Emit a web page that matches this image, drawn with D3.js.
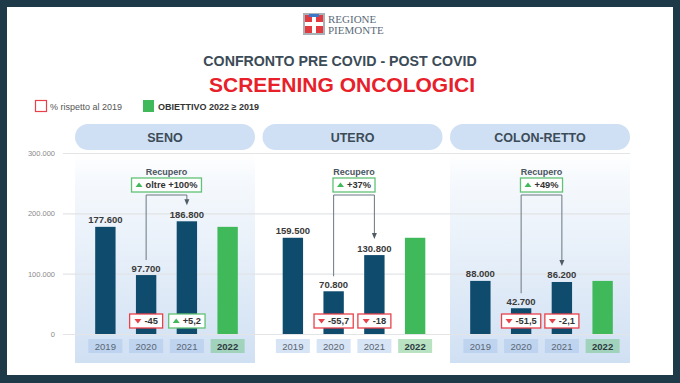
<!DOCTYPE html>
<html>
<head>
<meta charset="utf-8">
<script src="https://cdn.jsdelivr.net/npm/d3@7"></script>
<style>
  body { margin: 0; background: #1e3947; }
  text { font-family: "Liberation Sans", Arial, sans-serif; }
</style>
</head>
<body>
<div id="vis"></div>
<script>
// dati
var categories = ['SENO', 'UTERO', 'COLON-RETTO'];
var years = ['2019', '2020', '2021', '2022'];
var actual = [
    [177600, 97700, 186800],
    [159500, 70800, 130800],
    [88000, 42700, 86200]
];
var target = [177600, 159500, 88000];
var pctChange = [
    [-45, 5.2],
    [-55.7, -18],
    [-51.5, -2.1]
];
var recovery = ['oltre +100%', '+37%', '+49%'];
var yTicks = [0, 100000, 200000, 300000];

var W = 680, H = 383;
var navy = '#0f4b6d', green = '#40b95b', red = '#e8414a', greenLine = '#62c275';

var it = d3.formatLocale({decimal: ',', thousands: '.', grouping: [3], currency: ['€', '']});
var fmtInt = it.format(',');
var fmtPct = function(v) { return (v > 0 ? '+' : '-') + it.format(',')(Math.abs(v)); };

var svg = d3.select('#vis').append('svg')
    .attr('width', W)
    .attr('height', H);

var defs = svg.append('defs');
var grad = defs.append('linearGradient')
    .attr('id', 'panelGrad')
    .attr('x1', 0).attr('y1', 0).attr('x2', 0).attr('y2', 1);
grad.append('stop').attr('offset', '0%').attr('stop-color', '#d2e2f4').attr('stop-opacity', 0);
grad.append('stop').attr('offset', '12%').attr('stop-color', '#d2e2f4').attr('stop-opacity', 0.2);
grad.append('stop').attr('offset', '100%').attr('stop-color', '#d0e0f3').attr('stop-opacity', 1);

// cornice
svg.append('rect').attr('width', W).attr('height', H).attr('fill', '#1e3947');
svg.append('rect').attr('x', 7).attr('y', 7).attr('width', 666).attr('height', 368).attr('fill', '#fff');

// logo
var logo = svg.append('g').attr('transform', 'translate(303,13)');
logo.append('rect').attr('width', 22).attr('height', 22).attr('fill', '#a9b0b6');
logo.append('rect').attr('x', 2).attr('y', 2).attr('width', 18).attr('height', 18).attr('fill', '#e23a3f');
logo.append('rect').attr('x', 2).attr('y', 9).attr('width', 18).attr('height', 4).attr('fill', '#fff');
logo.append('rect').attr('x', 9).attr('y', 2).attr('width', 4).attr('height', 18).attr('fill', '#fff');
logo.append('rect').attr('x', 6).attr('y', 1).attr('width', 10).attr('height', 3).attr('fill', '#3b78c8');
svg.append('text').attr('x', 328).attr('y', 23)
    .style('font-family', '"Liberation Serif", serif').style('font-size', '11px')
    .attr('fill', '#5b6a78').text('REGIONE');
svg.append('text').attr('x', 328).attr('y', 34)
    .style('font-family', '"Liberation Serif", serif').style('font-size', '11px')
    .attr('fill', '#5b6a78').text('PIEMONTE');

// titoli
svg.append('text').attr('x', 340).attr('y', 66)
    .attr('text-anchor', 'middle')
    .style('font-size', '14.2px').style('font-weight', 'bold')
    .attr('fill', '#3b4b57')
    .text('CONFRONTO PRE COVID - POST COVID');
svg.append('text').attr('x', 342).attr('y', 91.5)
    .attr('text-anchor', 'middle')
    .style('font-size', '21px').style('font-weight', 'bold')
    .attr('fill', '#e8202a')
    .text('SCREENING ONCOLOGICI');

// legenda
svg.append('rect').attr('x', 35.5).attr('y', 100.5).attr('width', 11).attr('height', 11)
    .attr('fill', '#fff').attr('stroke', red).attr('stroke-width', 1.2);
svg.append('text').attr('x', 50).attr('y', 109.5)
    .style('font-size', '9px').attr('fill', '#555').text('% rispetto al 2019');
svg.append('rect').attr('x', 143).attr('y', 100).attr('width', 11).attr('height', 12).attr('fill', green);
svg.append('text').attr('x', 158).attr('y', 109.5)
    .style('font-size', '9px').style('font-weight', 'bold').attr('fill', '#333')
    .text('OBIETTIVO 2022 \u2265 2019');

// scale
var y = d3.scaleLinear().domain([0, 300000]).range([334, 153]);
var px = d3.scaleBand().domain(categories).range([75, 630]).paddingInner(0.04);
var bx = d3.scaleBand().domain(years).range([10, 173]).paddingInner(0.5).paddingOuter(0.25);

// pannelli (sfondo per SENO e COLON-RETTO)
categories.forEach(function(c, i) {
    if (i === 1) return;
    svg.append('rect')
        .attr('x', px(c)).attr('y', 153)
        .attr('width', px.bandwidth()).attr('height', 363 - 153)
        .attr('fill', 'url(#panelGrad)');
});

// griglia e asse y
var yAxis = d3.axisLeft(y)
    .tickValues(yTicks)
    .tickSize(-(630 - 63))
    .tickPadding(8)
    .tickFormat(fmtInt);
var ga = svg.append('g').attr('transform', 'translate(63,0)').call(yAxis);
ga.select('.domain').remove();
ga.selectAll('.tick line').attr('stroke', '#e2e4e6').attr('stroke-width', 1.2);
ga.selectAll('.tick text').attr('fill', '#8a8a8a')
    .style('font-size', '7.5px').style('font-family', '"Liberation Sans", Arial, sans-serif');

// intestazioni pannelli
categories.forEach(function(c) {
    svg.append('rect')
        .attr('x', px(c)).attr('y', 124)
        .attr('width', px.bandwidth()).attr('height', 26)
        .attr('rx', 13).attr('ry', 13)
        .attr('fill', '#cfe0f4');
    svg.append('text')
        .attr('x', px(c) + px.bandwidth() / 2).attr('y', 141.8)
        .attr('text-anchor', 'middle')
        .style('font-size', '12.5px').style('font-weight', 'bold')
        .attr('fill', '#3b4b57')
        .text(c);
});

var triUp = function(g, x, yc, col) {
    g.append('path')
        .attr('d', 'M' + (x - 3.5) + ',' + (yc + 2) + 'L' + (x + 3.5) + ',' + (yc + 2) + 'L' + x + ',' + (yc - 2.5) + 'Z')
        .attr('fill', col);
};
var triDown = function(g, x, yc, col) {
    g.append('path')
        .attr('d', 'M' + (x - 3.5) + ',' + (yc - 2) + 'L' + (x + 3.5) + ',' + (yc - 2) + 'L' + x + ',' + (yc + 2.5) + 'Z')
        .attr('fill', col);
};

// box con triangolo + testo
var badge = function(cx, top, h, label, up, border, minW) {
    var g = svg.append('g');
    var rect = g.append('rect');
    var t = g.append('text')
        .attr('y', top + h / 2 + 3.3)
        .style('font-size', '9.3px').style('font-weight', 'bold')
        .attr('fill', '#333').text(label);
    var tw = t.node().getComputedTextLength();
    var cw = 7 + 3 + tw;
    var w = Math.max(minW, cw + 8);
    var sx = cx - cw / 2;
    rect.attr('x', cx - w / 2).attr('y', top).attr('width', w).attr('height', h)
        .attr('fill', '#fff').attr('stroke', border).attr('stroke-width', 1.3);
    if (up) triUp(g, sx + 3.5, top + h / 2, green);
    else triDown(g, sx + 3.5, top + h / 2, red);
    t.attr('x', sx + 10);
};

categories.forEach(function(c, i) {
    var x0 = px(c);
    var vals = actual[i].concat([target[i]]);
    var g = svg.append('g').attr('transform', 'translate(' + x0 + ',0)');

    // etichette anni
    g.selectAll('.yl').data(years).enter().append('rect')
        .attr('x', function(d) { return bx(d) + bx.bandwidth() / 2 - 17; })
        .attr('y', 339).attr('width', 34).attr('height', 14)
        .attr('fill', function(d, j) { return j === 3 ? 'rgb(100,190,120)' : 'rgb(160,190,230)'; })
        .attr('fill-opacity', function(d, j) { return j === 3 ? 0.45 : 0.42; });
    g.selectAll('.yt').data(years).enter().append('text')
        .attr('x', function(d) { return bx(d) + bx.bandwidth() / 2; })
        .attr('y', 349.5)
        .attr('text-anchor', 'middle')
        .style('font-size', '9.5px')
        .style('font-weight', function(d, j) { return j === 3 ? 'bold' : 'normal'; })
        .attr('fill', function(d, j) { return j === 3 ? '#2c3a40' : '#5a6672'; })
        .text(function(d) { return d; });

    // barre
    g.selectAll('.bar').data(vals).enter().append('rect')
        .attr('x', function(d, j) { return bx(years[j]); })
        .attr('y', function(d) { return y(d); })
        .attr('width', bx.bandwidth())
        .attr('height', function(d) { return y(0) - y(d); })
        .attr('fill', function(d, j) { return j === 3 ? green : navy; });

    // valori
    g.selectAll('.val').data(actual[i]).enter().append('text')
        .attr('x', function(d, j) { return bx(years[j]) + bx.bandwidth() / 2; })
        .attr('y', function(d) { return y(d) - 3.5; })
        .attr('text-anchor', 'middle')
        .style('font-size', '9.5px').style('font-weight', 'bold')
        .attr('fill', '#3a3a3a')
        .text(function(d) { return fmtInt(d); });

    // bracket recupero
    var xa = x0 + bx('2020') + bx.bandwidth() / 2;
    var xb = x0 + bx('2021') + bx.bandwidth() / 2;
    var tip = y(actual[i][2]) - 16;
    svg.append('path')
        .attr('d', 'M' + xa + ',' + (y(actual[i][1]) - 15) + 'V195H' + xb + 'V' + (tip - 5))
        .attr('fill', 'none').attr('stroke', '#6b7680').attr('stroke-width', 1);
    svg.append('path')
        .attr('d', 'M' + (xb - 2.5) + ',' + (tip - 6) + 'L' + (xb + 2.5) + ',' + (tip - 6) + 'L' + xb + ',' + tip + 'Z')
        .attr('fill', '#4f5b66');
    svg.append('text')
        .attr('x', (xa + xb) / 2).attr('y', 174.5)
        .attr('text-anchor', 'middle')
        .style('font-size', '9px').style('font-weight', 'bold')
        .attr('fill', '#4a5560').text('Recupero');
    badge((xa + xb) / 2, 178, 14, recovery[i], true, greenLine, 40);

    // variazioni %
    pctChange[i].forEach(function(p, j) {
        var cx = x0 + bx(years[j + 1]) + bx.bandwidth() / 2;
        badge(cx, y(0) - 20, 14, fmtPct(p), p > 0, p > 0 ? greenLine : red, 33);
    });
});
</script>
</body>
</html>
